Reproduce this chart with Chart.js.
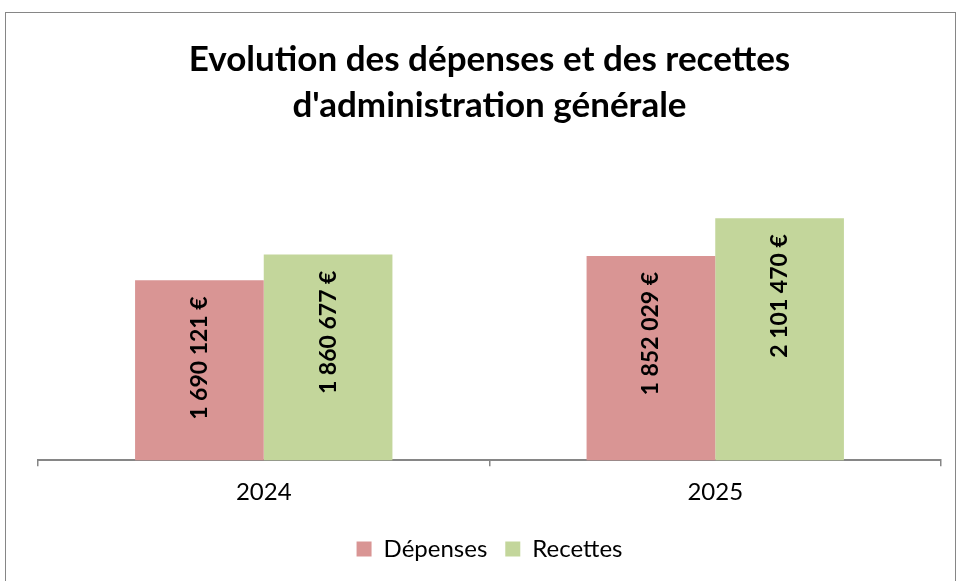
<!DOCTYPE html>
<html>
<head>
<meta charset="utf-8">
<script src="https://cdn.jsdelivr.net/npm/chart.js@4"></script>
<style>
  body { margin: 0; background: #fff; }
  #wrap { width: 960px; height: 581px; }
</style>
</head>
<body>
<div id="wrap"><canvas id="myChart" width="960" height="581"></canvas></div>
<script>
// #-------------- Chart data --------------#
const years    = ['2024', '2025'];
const depenses = [1690121, 1852029];
const recettes = [1860677, 2101470];
const titleLines = ['Evolution des dépenses et des recettes', "d'administration générale"];

const FONT = 'Lato, "Open Sans", sans-serif';

// format 1690121 -> "1 690 121 €"
function euro(v) {
    return String(v).replace(/\B(?=(\d{3})+(?!\d))/g, ' ') + ' €';
}

// Rotated value labels inside the top of each bar
const valueLabels = {
    id: 'valueLabels',
    afterDatasetsDraw(chart) {
        const ctx = chart.ctx;
        chart.data.datasets.forEach((ds, i) => {
            chart.getDatasetMeta(i).data.forEach((bar, j) => {
                ctx.save();
                ctx.translate(bar.x, bar.y + 16);
                ctx.rotate(-Math.PI / 2);
                ctx.textAlign = 'right';
                ctx.textBaseline = 'middle';
                ctx.fillStyle = '#000';
                ctx.font = 'bold 23px ' + FONT;
                ctx.fillText(euro(ds.data[j]), 0, 0);
                ctx.restore();
            });
        });
    }
};

// Outer frame of the chart
const frame = {
    id: 'frame',
    beforeDraw(chart) {
        const ctx = chart.ctx;
        ctx.save();
        ctx.fillStyle = '#fff';
        ctx.fillRect(0, 0, chart.width, chart.height);
        ctx.strokeStyle = '#868686';
        ctx.lineWidth = 1;
        ctx.strokeRect(5.5, 12.5, 950, 600);
        ctx.restore();
    }
};

new Chart(document.getElementById('myChart'), {
    type: 'bar',
    data: {
        labels: years,
        datasets: [{
            label: 'Dépenses',
            data: depenses,
            backgroundColor: '#D99594',
            categoryPercentage: 0.57,
            barPercentage: 1
        }, {
            label: 'Recettes',
            data: recettes,
            backgroundColor: '#C3D69B',
            categoryPercentage: 0.57,
            barPercentage: 1
        }]
    },
    options: {
        responsive: false,
        animation: false,
        layout: { padding: { left: 38, right: 19, top: 37, bottom: 10 } },
        plugins: {
            title: {
                display: true,
                text: titleLines,
                color: '#000',
                font: { family: FONT, size: 35, weight: 'bold', lineHeight: 1.3 },
                padding: { top: 0, bottom: 30 }
            },
            legend: {
                position: 'bottom',
                labels: {
                    color: '#000',
                    font: { family: FONT, size: 24 },
                    boxWidth: 15,
                    boxHeight: 15,
                    padding: 18
                }
            },
            tooltip: { enabled: false }
        },
        scales: {
            x: {
                grid: {
                    display: true,
                    offset: true,
                    drawOnChartArea: false,
                    drawTicks: true,
                    tickLength: 6,
                    color: '#868686',
                    lineWidth: 1.5
                },
                border: { display: true, color: '#868686', width: 2 },
                ticks: { color: '#000', font: { family: FONT, size: 24 }, padding: 12 }
            },
            y: {
                display: false,
                min: 500000,
                max: 2500000
            }
        }
    },
    plugins: [frame, valueLabels]
});
</script>
</body>
</html>
